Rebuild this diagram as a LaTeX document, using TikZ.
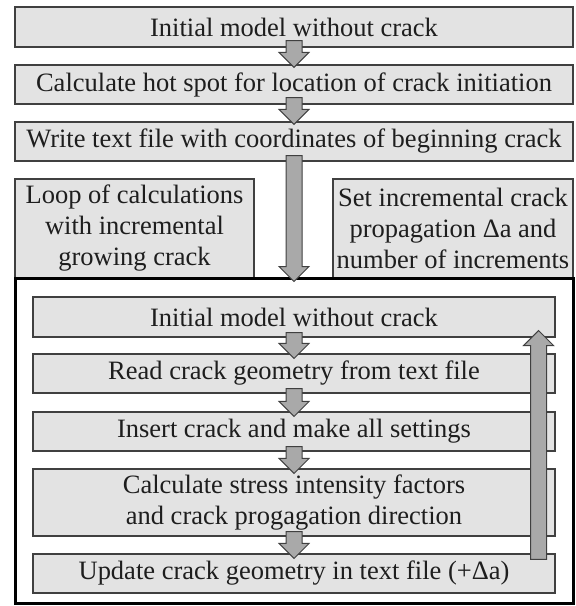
\documentclass[tikz,border=0pt]{standalone}
\usepackage{fontspec}
\setmainfont{Liberation Serif}
\usetikzlibrary{calc}
\definecolor{boxfill}{HTML}{E3E3E3}
\definecolor{boxline}{HTML}{404040}
\definecolor{arrfill}{HTML}{A9A9A9}
\definecolor{txt}{HTML}{1E1E1E}
\tikzset{
  box/.style={draw=boxline, fill=boxfill, line width=1.1pt, rectangle, inner sep=0pt,
    text=txt, font=\fontsize{26.5}{31}\selectfont, align=center},
  framebox/.style={draw=black, line width=3pt, rectangle, inner sep=0pt},
  barrow/.style={draw=boxline, fill=arrfill, line width=1pt, line join=miter}
}
\newcommand\arrdown[2]{%
  \draw[barrow] let \p1=(#1), \p2=(#2) in
    (\x1-8pt,\y1) -- (\x1+8pt,\y1) -- (\x1+8pt,\y2+15pt) -- (\x1+15pt,\y2+15pt)
    -- (\x1,\y2) -- (\x1-15pt,\y2+15pt) -- (\x1-8pt,\y2+15pt) -- cycle;}
\newcommand\arrup[2]{%
  \draw[barrow] let \p1=(#1), \p2=(#2) in
    (\x1-8pt,\y1) -- (\x1+8pt,\y1) -- (\x1+8pt,\y2-15pt) -- (\x1+15pt,\y2-15pt)
    -- (\x1,\y2) -- (\x1-15pt,\y2-15pt) -- (\x1-8pt,\y2-15pt) -- cycle;}
\begin{document}
\begin{tikzpicture}[x=1pt,y=-1pt]
\useasboundingbox (0,0) rectangle (576,606);
% top boxes
\node[box, minimum width=558pt, minimum height=40pt] (b1) at (294,27) {Initial model without crack};
\node[box, minimum width=558pt, minimum height=39pt] (b2) at (294,84.5) {Calculate hot spot for location of crack initiation};
\node[box, minimum width=558pt, minimum height=39pt] (b3) at (294,141.5) {Write text file with coordinates of beginning crack};
\node[box, minimum width=239pt, minimum height=99pt] (lb) at (134.5,228.5) {Loop of calculations\\with incremental\\growing crack};
\node[box, minimum width=240pt, minimum height=99pt] (rb) at (453,228.5) {Set incremental crack\\propagation Δa and\\number of increments};
% frame
\node[framebox, minimum width=558pt, minimum height=325pt] (fr) at (294,440.5) {};
% inner boxes
\node[box, minimum width=522pt, minimum height=40pt] (i1) at (294,317) {Initial model without crack};
\node[box, minimum width=522pt, minimum height=39pt] (i2) at (294,373.5) {Read crack geometry from text file};
\node[box, minimum width=522pt, minimum height=39pt] (i3) at (294,431.5) {Insert crack and make all settings};
\node[box, minimum width=522pt, minimum height=67pt] (i4) at (294,502.5) {Calculate stress intensity factors\\and crack progagation direction};
\node[box, minimum width=522pt, minimum height=39pt] (i5) at (294,573.5) {Update crack geometry in text file (+Δa)};
% arrows
\arrdown{$(b1.south)+(0,-7)$}{$(b2.north)+(0,3)$}
\arrdown{$(b2.south)+(0,-7)$}{$(b3.north)+(0,3)$}
\arrdown{$(b3.south)+(0,-6)$}{$(fr.north)+(0,5)$}
\arrdown{$(i1.south)+(0,-5)$}{$(i2.north)+(0,5)$}
\arrdown{$(i2.south)+(0,-5)$}{$(i3.north)+(0,5)$}
\arrdown{$(i3.south)+(0,-5)$}{$(i4.north)+(0,5)$}
\arrdown{$(i4.south)+(0,-5)$}{$(i5.north)+(0,5)$}
\arrup{$(i5.north east)+(-17,6)$}{$(i1.south east)+(-17,-7)$}
\end{tikzpicture}
\end{document}
